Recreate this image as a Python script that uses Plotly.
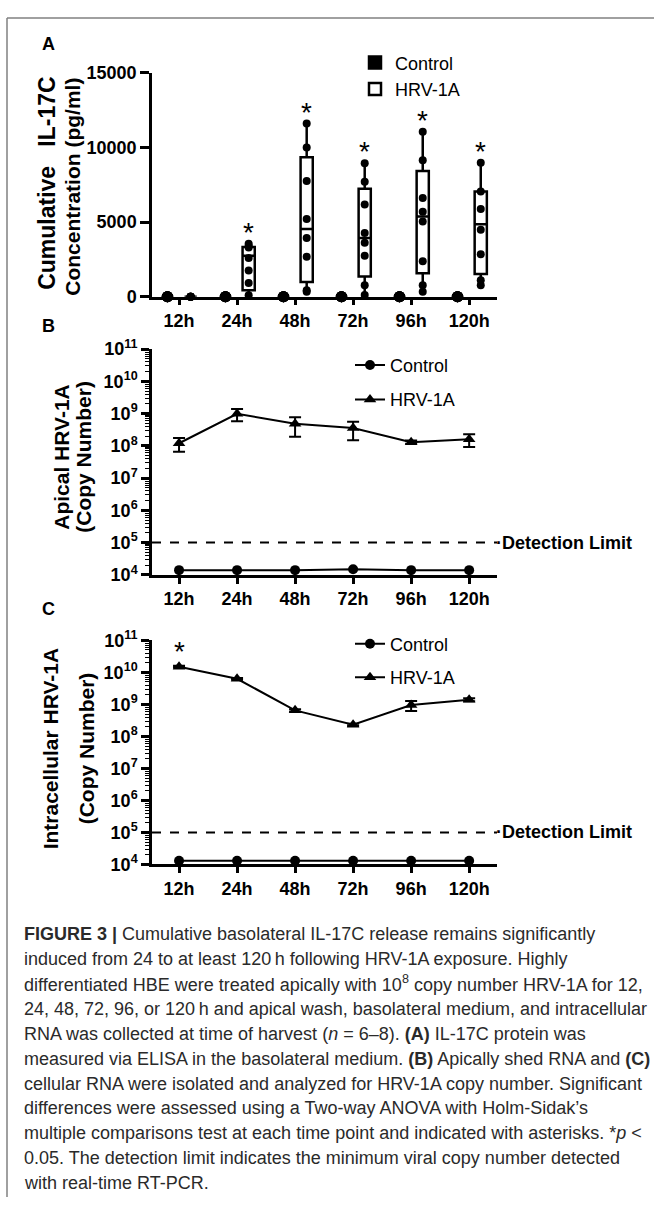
import plotly.graph_objects as go
import math

W, H = 654, 1207

# ---------------- data ----------------
times = ["12h", "24h", "48h", "72h", "96h", "120h"]

# Panel A: IL-17C (pg/ml) box stats
ctrl_points = [[0, 0, 0, 0, 0, 0]] * 6
hrv_q1 = [0, 440, 985, 1360, 1580, 1530]
hrv_med = [0, 2740, 4530, 3940, 5370, 4860]
hrv_q3 = [0, 3330, 9350, 7230, 8430, 7050]
hrv_min = [0, 100, 250, 100, 330, 700]
hrv_max = [0, 3550, 11600, 8940, 11060, 8980]
hrv_points = [
    [0, 0, 0, 0, 0, 0],
    [3550, 3400, 3300, 2600, 1750, 920, 100],
    [11600, 10000, 7750, 5210, 3940, 2670, 440, 330],
    [8940, 7710, 6180, 4270, 3610, 2740, 770, 110],
    [11060, 9150, 6610, 5700, 5040, 2370, 770, 330],
    [8980, 7050, 5870, 4490, 2850, 1100, 770],
]
sig_A = [False, True, True, True, True, True]

# Panel B: apical copy number (mean, SEM)
b_ctrl = [1.4e4, 1.4e4, 1.4e4, 1.5e4, 1.4e4, 1.4e4]
b_hrv = [1.2e8, 9.8e8, 4.8e8, 3.55e8, 1.3e8, 1.6e8]
b_hrv_sem = [0.55e8, 4.0e8, 2.9e8, 2.05e8, 0.15e8, 0.68e8]

# Panel C: intracellular copy number (mean, SEM)
c_ctrl = [1.3e4, 1.3e4, 1.3e4, 1.3e4, 1.3e4, 1.3e4]
c_hrv = [1.5e10, 6.3e9, 6.5e8, 2.3e8, 9.5e8, 1.4e9]
c_hrv_sem = [0.1e10, 0.4e9, 0.6e8, 0.2e8, 3.3e8, 0.15e9]
sig_C = [True, False, False, False, False, False]

detection_limit = 1e5
log_tickvals = [1e4, 1e5, 1e6, 1e7, 1e8, 1e9, 1e10, 1e11]
log_ticktext = ["<b>10<sup>%d</sup></b>" % int(round(math.log10(v))) for v in log_tickvals]

caption_lines = [
    "<b>FIGURE 3 |</b> Cumulative basolateral IL-17C release remains significantly",
    "induced from 24 to at least 120\u2009h following HRV-1A exposure. Highly",
    "differentiated HBE were treated apically with 10<sup>8</sup> copy number HRV-1A for 12,",
    "24, 48, 72, 96, or 120\u2009h and apical wash, basolateral medium, and intracellular",
    "RNA was collected at time of harvest (<i>n</i> = 6\u20138). <b>(A)</b> IL-17C protein was",
    "measured via ELISA in the basolateral medium. <b>(B)</b> Apically shed RNA and <b>(C)</b>",
    "cellular RNA were isolated and analyzed for HRV-1A copy number. Significant",
    "differences were assessed using a Two-way ANOVA with Holm-Sidak\u2019s",
    "multiple comparisons test at each time point and indicated with asterisks. *<i>p</i> <",
    "0.05. The detection limit indicates the minimum viral copy number detected",
    "with real-time RT-PCR.",
]

# ---------------- helpers ----------------
def px_x(p):
    return p / W

def px_y(p):
    return 1 - p / H

FONT = "Liberation Sans, Arial, sans-serif"
CAP_FONT = "Liberation Sans, Arial, sans-serif"
idx = list(range(len(times)))
OFF = 0.2
BOXW = 0.21

fig = go.Figure()

# ---------------- Panel A ----------------
fig.add_trace(go.Box(
    x=[i - OFF for i in idx], q1=[0] * 6, median=[0] * 6, q3=[0] * 6,
    lowerfence=[0] * 6, upperfence=[0] * 6, width=BOXW,
    fillcolor="black", line=dict(color="black", width=2.5), whiskerwidth=0,
    name="Control", xaxis="x", yaxis="y", legend="legend", boxpoints=False,
    legendgroup="a1"))
fig.add_trace(go.Box(
    x=[i + OFF for i in idx], q1=hrv_q1, median=hrv_med, q3=hrv_q3,
    lowerfence=hrv_min, upperfence=hrv_max, width=BOXW,
    fillcolor="white", line=dict(color="black", width=2.5), whiskerwidth=0,
    name="HRV-1A", xaxis="x", yaxis="y", legend="legend", boxpoints=False,
    legendgroup="a2"))
cx, cy, hx, hy = [], [], [], []
for i in idx:
    for v in ctrl_points[i]:
        cx.append(i - OFF); cy.append(v)
    for v in hrv_points[i]:
        hx.append(i + OFF); hy.append(v)
fig.add_trace(go.Scatter(x=cx, y=cy, mode="markers", marker=dict(color="black", size=11),
                         cliponaxis=False, showlegend=False, xaxis="x", yaxis="y"))
fig.add_trace(go.Scatter(x=hx, y=hy, mode="markers", marker=dict(color="black", size=8),
                         cliponaxis=False, showlegend=False, xaxis="x", yaxis="y"))

# ---------------- Panel B & C ----------------
for ctrl, hrv, sem, ax, lg in [(b_ctrl, b_hrv, b_hrv_sem, "2", "legend2"),
                              (c_ctrl, c_hrv, c_hrv_sem, "3", "legend3")]:
    fig.add_trace(go.Scatter(
        x=idx, y=ctrl, mode="lines+markers", name="Control",
        line=dict(color="black", width=2), marker=dict(symbol="circle", size=10, color="black"),
        cliponaxis=False, xaxis="x" + ax, yaxis="y" + ax, legend=lg, legendgroup=lg + "c"))
    fig.add_trace(go.Scatter(
        x=idx, y=hrv, mode="lines+markers", name="HRV-1A",
        line=dict(color="black", width=2), marker=dict(symbol="triangle-up", size=11, color="black"),
        error_y=dict(type="data", array=sem, color="black", thickness=2, width=6),
        cliponaxis=False, xaxis="x" + ax, yaxis="y" + ax, legend=lg, legendgroup=lg + "h"))

# ---------------- axes ----------------
xr = [-0.466, 5.48]
common_x = dict(range=xr, tickmode="array", tickvals=idx, ticktext=times,
                showline=True, linecolor="black", linewidth=2.5, ticks="outside",
                ticklen=6, tickwidth=2.5, tickcolor="black", showgrid=False, zeroline=False,
                tickfont=dict(family=FONT, size=18, color="black", weight="bold"),
                domain=[px_x(152), px_x(497)])
common_logy = dict(type="log", range=[4, 11], tickmode="array", tickvals=log_tickvals,
                   ticktext=log_ticktext, showline=True, linecolor="black", linewidth=2.5,
                   ticks="outside", ticklen=8, tickwidth=2.5, tickcolor="black",
                   showgrid=False, zeroline=False,
                   tickfont=dict(family=FONT, size=18, color="black"),
                   minor=dict(ticks="outside", ticklen=4, tickwidth=1.3, tickcolor="black",
                              dtick="D1", showgrid=False))

fig.update_layout(
    width=W, height=H, margin=dict(l=0, r=0, t=0, b=0),
    paper_bgcolor="white", plot_bgcolor="white",
    xaxis=dict(common_x, anchor="y"),
    yaxis=dict(range=[0, 15000], tickvals=[0, 5000, 10000, 15000],
               ticktext=["0", "5000", "10000", "15000"],
               showline=True, linecolor="black", linewidth=2.5, ticks="outside",
               ticklen=9, tickwidth=2.5, tickcolor="black", showgrid=False, zeroline=False,
               tickfont=dict(family=FONT, size=18, color="black", weight="bold"),
               domain=[px_y(290), px_y(62)], anchor="x"),
    xaxis2=dict(common_x, anchor="y2"),
    yaxis2=dict(common_logy, domain=[px_y(573.3), px_y(343.3)], anchor="x2"),
    xaxis3=dict(common_x, anchor="y3"),
    yaxis3=dict(common_logy, domain=[px_y(868.3), px_y(640)], anchor="x3"),
    showlegend=True,
    legend=dict(x=px_x(355), y=px_y(33), xanchor="left", yanchor="top",
                font=dict(family=FONT, size=18, color="black"), bgcolor="rgba(0,0,0,0)",
                tracegroupgap=0, itemclick=False),
    legend2=dict(x=px_x(350), y=px_y(341), xanchor="left", yanchor="top",
                 font=dict(family=FONT, size=18, color="black"), bgcolor="rgba(0,0,0,0)",
                 tracegroupgap=8),
    legend3=dict(x=px_x(350), y=px_y(625), xanchor="left", yanchor="top",
                 font=dict(family=FONT, size=18, color="black"), bgcolor="rgba(0,0,0,0)",
                 tracegroupgap=7),
)

# detection limit lines
for ax in ["2", "3"]:
    fig.add_shape(type="line", xref="x%s domain" % ax, yref="y" + ax, x0=0, x1=1,
                  y0=detection_limit, y1=detection_limit,
                  line=dict(color="black", width=2, dash="dash"))
    fig.add_annotation(xref="x%s domain" % ax, yref="y" + ax, x=1, y=math.log10(detection_limit),
                       text="<b>\u00b7Detection Limit</b>", showarrow=False, xanchor="left",
                       yanchor="middle", xshift=-3,
                       font=dict(family=FONT, size=18, color="black"))

# asterisks
for i in idx:
    if sig_A[i]:
        fig.add_annotation(xref="x", yref="y", x=i + OFF, y=hrv_max[i], text="*",
                           showarrow=False, yanchor="bottom", yshift=-6,
                           font=dict(family=FONT, size=28, color="black"))
    if sig_C[i]:
        fig.add_annotation(xref="x3", yref="y3", x=i, y=math.log10(c_hrv[i]), text="*",
                           showarrow=False, yanchor="bottom", yshift=-2,
                           font=dict(family=FONT, size=28, color="black"))

# axis titles (rotated, line by line)
titles = [
    ("Cumulative\u00a0\u00a0\u00a0IL-17C", 47, 175, 23), ("Concentration (pg/ml)", 73, 178, 21),
    ("Apical HRV-1A", 62, 453, 21), ("(Copy Number)", 84, 453, 21),
    ("Intracellular HRV-1A", 50, 750, 21), ("(Copy Number)", 86, 750, 21),
]
for t, x, y, s in titles:
    fig.add_annotation(xref="paper", yref="paper", x=px_x(x), y=px_y(y), text="<b>%s</b>" % t,
                       showarrow=False, textangle=-90, xanchor="center", yanchor="middle",
                       font=dict(family=FONT, size=s, color="black"))

# panel letters
for letter, y in [("A", 33), ("B", 320), ("C", 608)]:
    fig.add_annotation(xref="paper", yref="paper", x=px_x(40), y=px_y(y), text="<b>%s</b>" % letter,
                       showarrow=False, xanchor="left", yanchor="middle",
                       font=dict(family=FONT, size=18, color="black"))

# caption
for k, line in enumerate(caption_lines):
    fig.add_annotation(xref="paper", yref="paper", x=px_x(22), y=px_y(939 + k * 25.4),
                       text=line, showarrow=False, xanchor="left", yanchor="middle",
                       font=dict(family=CAP_FONT, size=18, color="#2a2a2a"))

# frame
fig.add_shape(type="line", xref="paper", yref="paper", x0=px_x(7), x1=1, y0=px_y(6), y1=px_y(6),
              line=dict(color="#808080", width=1.5))
fig.add_shape(type="line", xref="paper", yref="paper", x0=px_x(7), x1=px_x(7), y0=0, y1=px_y(6),
              line=dict(color="#808080", width=1.5))

fig.write_html("out.html", config={"displayModeBar": False},
               post_script="document.body.style.margin='0';document.body.style.padding='0';"
                           "document.documentElement.style.overflow='hidden';")
